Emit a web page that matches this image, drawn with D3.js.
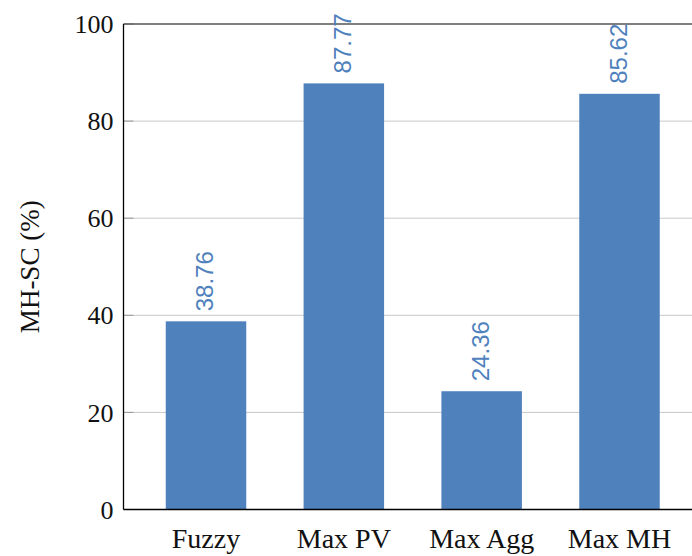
<!DOCTYPE html>
<html><head><meta charset="utf-8">
<script src="https://cdn.jsdelivr.net/npm/d3@7"></script>
<style>body{margin:0;background:#fff}svg{display:block}</style>
</head><body>
<svg id="c" width="692" height="556"></svg>
<script>
const categories = ["Fuzzy", "Max PV", "Max Agg", "Max MH"];
const values = [38.76, 87.77, 24.36, 85.62];
const yTicks = [0, 20, 40, 60, 80, 100];
const yLabel = "MH-SC (%)";

const svg = d3.select("#c");
const L = 123.5, R = 702, T = 24, B = 509.5;
const y = d3.scaleLinear().domain([0, 100]).range([B, T]);
const x = d3.scalePoint().domain(categories).range([206, 619.5]);
const bw = x.step() * 0.584;
const blue = "#4F81BD";
const serif = "'Liberation Serif', 'Times New Roman', serif";

// grid
svg.append("g").selectAll("line").data(yTicks.filter(d => d > 0 && d < 100)).join("line")
  .attr("x1", L).attr("x2", R).attr("y1", d => y(d)).attr("y2", d => y(d))
  .attr("stroke", "#c8c8c8").attr("stroke-width", 1);

// bars
svg.append("g").selectAll("rect").data(values).join("rect")
  .attr("x", (d, i) => x(categories[i]) - bw / 2)
  .attr("width", bw)
  .attr("y", d => y(d))
  .attr("height", d => B - y(d))
  .attr("fill", blue);

// tick marks (inside)
svg.append("g").selectAll("line").data(yTicks).join("line")
  .attr("x1", L).attr("x2", L + 10).attr("y1", d => y(d)).attr("y2", d => y(d))
  .attr("stroke", "#999").attr("stroke-width", 1);

// frame
svg.append("line").attr("x1", L).attr("x2", R).attr("y1", T).attr("y2", T)
  .attr("stroke", "#555").attr("stroke-width", 1.3);
svg.append("line").attr("x1", L).attr("x2", L).attr("y1", T).attr("y2", B)
  .attr("stroke", "#000").attr("stroke-width", 1.3);
svg.append("line").attr("x1", L).attr("x2", R).attr("y1", B).attr("y2", B)
  .attr("stroke", "#000").attr("stroke-width", 1.3);

// y tick labels
svg.append("g").selectAll("text").data(yTicks).join("text")
  .attr("x", L - 10).attr("y", d => y(d)).attr("dy", "0.35em")
  .attr("text-anchor", "end")
  .attr("font-family", serif).attr("font-size", 26).attr("fill", "#111")
  .text(d => d);

// x labels
svg.append("g").selectAll("text").data(categories).join("text")
  .attr("x", d => x(d)).attr("y", 548)
  .attr("text-anchor", "middle")
  .attr("font-family", serif).attr("font-size", 28).attr("fill", "#111")
  .text(d => d);

// y axis label
svg.append("text")
  .attr("transform", `translate(39,${(T + B) / 2}) rotate(-90)`)
  .attr("text-anchor", "middle")
  .attr("font-family", serif).attr("font-size", 27).attr("fill", "#111")
  .text(yLabel);

// value labels
svg.append("g").selectAll("text").data(values).join("text")
  .attr("transform", (d, i) => `translate(${x(categories[i]) + 7},${y(d) - 10}) rotate(-90)`)
  .attr("text-anchor", "start")
  .attr("font-family", "'Liberation Sans', Arial, sans-serif").attr("font-size", 24)
  .attr("fill", blue)
  .text(d => d.toFixed(2));
</script>
</body></html>
